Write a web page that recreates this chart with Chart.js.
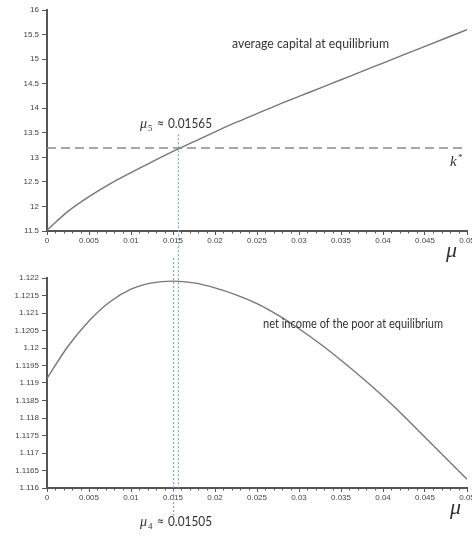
<!DOCTYPE html>
<html><head><meta charset="utf-8">
<script src="https://cdn.jsdelivr.net/npm/chart.js@4/dist/chart.umd.min.js"></script>
<style>
html,body{margin:0;padding:0;background:#fff;}
#wrap{position:relative;width:472px;height:537px;overflow:hidden;}
canvas{position:absolute;left:0;top:0;}
</style></head><body>
<div id="wrap"><canvas id="c1" width="472" height="537"></canvas><canvas id="c2" width="472" height="537"></canvas></div>
<script>
// ---- data ----
const mu = [0,0.0025,0.005,0.0075,0.01,0.0125,0.015,0.0175,0.02,0.0225,0.025,0.0275,0.03,0.0325,0.035,0.0375,0.04,0.0425,0.045,0.0475,0.05];
const avgCapital = [11.52,11.9,12.2,12.46,12.69,12.91,13.12,13.32,13.52,13.71,13.89,14.07,14.24,14.41,14.58,14.75,14.92,15.09,15.26,15.43,15.6];
const netIncomePoor = [1.11913,1.12005,1.12077,1.12132,1.12168,1.12186,1.12191,1.12186,1.12172,1.12152,1.12127,1.12094,1.12055,1.12012,1.11965,1.11915,1.11862,1.11805,1.11745,1.11685,1.11625];
const kStar = 13.19;
const mu5 = 0.01565;
const mu4 = 0.01505;
const xTickLabels = ['0','0.005','0.01','0.015','0.02','0.025','0.03','0.035','0.04','0.045','0.05'];
const topYTickLabels = ['11.5','12','12.5','13','13.5','14','14.5','15','15.5','16'];
const bottomYTickLabels = ['1.116','1.1165','1.117','1.1175','1.118','1.1185','1.119','1.1195','1.12','1.1205','1.121','1.1215','1.122'];
const xStep = 0.005, topYStep = 0.5, bottomYStep = 0.0005;

// ---- helpers ----
const AXIS = '#555';
const TICKFONT = {family:'Liberation Sans, Arial, sans-serif', size:8};
function fitText(ctx, txt, x, y, w, font, color){
  ctx.save(); ctx.font = font; ctx.fillStyle = color; ctx.textBaseline = 'alphabetic'; ctx.textAlign='left';
  const m = ctx.measureText(txt).width;
  ctx.translate(x, y); ctx.scale(w/m, 1); ctx.fillText(txt, 0, 0); ctx.restore();
}
function muLabel(ctx, sub, val, x, y){
  ctx.save(); ctx.fillStyle = '#333'; ctx.textBaseline='alphabetic';
  ctx.font = 'italic 14px "Liberation Serif", serif'; ctx.fillText('μ', x, y);
  ctx.font = '9px "Liberation Serif", serif'; ctx.fillText(sub, x+8, y+3);
  ctx.restore();
  fitText(ctx, '≈', x+17, y-1, 7, '12px "DejaVu Sans", sans-serif', '#333');
  fitText(ctx, val, x+28, y, 44, '13px Lato, sans-serif', '#333');
}
const minorTicks = {id:'minorTicks', afterDraw(chart){
  const xs = chart.scales.x, ctx = chart.ctx;
  ctx.save(); ctx.strokeStyle = AXIS; ctx.lineWidth = 1;
  for(let i=1;i<50;i++){ if(i%5===0) continue;
    const px = Math.round(xs.getPixelForValue(i*0.001))+0.5;
    ctx.beginPath(); ctx.moveTo(px, xs.top); ctx.lineTo(px, xs.top+2.5); ctx.stroke(); }
  ctx.restore();
}};
function makeScales(yMin, yMax, yStep, yLabels){
  return {
    x:{type:'linear', min:0, max:0.05,
      afterFit(s){ s.height = 30; s.paddingLeft = 0; s.paddingRight = 0; },
      grid:{drawOnChartArea:false, tickLength:4, tickColor:AXIS, tickWidth:1},
      border:{color:AXIS, width:2},
      ticks:{stepSize:xStep, autoSkip:false, maxRotation:0, padding:1, color:'#444', font:TICKFONT,
        callback(v){ return xTickLabels[Math.round(v/xStep)]; }}},
    y:{type:'linear', min:yMin, max:yMax,
      afterFit(s){ s.width = 47; s.paddingTop = 0; s.paddingBottom = 0; },
      grid:{drawOnChartArea:false, tickLength:5, tickColor:AXIS, tickWidth:1},
      border:{color:AXIS, width:2},
      ticks:{stepSize:yStep, autoSkip:false, padding:3, color:'#444', font:TICKFONT,
        callback(v){ return yLabels[Math.round((v-yMin)/yStep)]; }}}
  };
}

// ---- top chart ----
const topText = {id:'topText', afterDraw(chart){
  const ctx = chart.ctx;
  fitText(ctx, 'average capital at equilibrium', 232, 48, 157, '13px Lato, sans-serif', '#333');
  muLabel(ctx, '5', '0.01565', 140, 128);
  ctx.save(); ctx.fillStyle='#333';
  ctx.font = 'italic 15px "Liberation Serif", serif'; ctx.fillText('k', 450, 166);
  ctx.font = '9px "Liberation Serif", serif'; ctx.fillText('*', 458, 160);
  ctx.font = 'italic 22px "Liberation Serif", serif'; ctx.fillText('μ', 446, 257);
  ctx.restore();
}};
const chart1 = new Chart(document.getElementById('c1'), {
  type:'line',
  data:{datasets:[
    {data: mu.map((m,i)=>({x:m, y:avgCapital[i]})), borderColor:'#777', borderWidth:1.4, pointRadius:0, cubicInterpolationMode:'monotone', fill:false},
    {data: [{x:0,y:kStar},{x:0.05,y:kStar}], borderColor:'#8a8a8a', borderWidth:1.5, borderDash:[9,5], pointRadius:0, fill:false}
  ]},
  options:{responsive:false, animation:false, devicePixelRatio:1,
    layout:{padding:{left:0, right:5, top:10, bottom:537-231-30}},
    plugins:{legend:{display:false}, tooltip:{enabled:false}},
    scales: makeScales(11.5, 16, topYStep, topYTickLabels)},
  plugins:[minorTicks, topText]
});

// ---- bottom chart ----
const bottomText = {id:'bottomText', afterDraw(chart){
  const ctx = chart.ctx, xs = chart.scales.x;
  fitText(ctx, 'net income of the poor at equilibrium', 263, 328, 180, '13px Lato, sans-serif', '#333');
  muLabel(ctx, '4', '0.01505', 140, 526);
  ctx.save(); ctx.fillStyle='#333';
  ctx.font = 'italic 22px "Liberation Serif", serif'; ctx.fillText('μ', 450, 514);
  ctx.restore();
  // dotted guide lines
  ctx.save(); ctx.strokeStyle = '#7fa6d8'; ctx.lineWidth = 1.2; ctx.setLineDash([2,2]);
  const x5 = Math.round(xs.getPixelForValue(mu5))+0.5;
  const y5top = chart1.scales.y.getPixelForValue(13.47);
  ctx.beginPath(); ctx.moveTo(x5, y5top); ctx.lineTo(x5, chart.chartArea.bottom); ctx.stroke();
  const x4 = Math.round(xs.getPixelForValue(mu4))+0.5;
  ctx.beginPath(); ctx.moveTo(x4, 258); ctx.lineTo(x4, 516); ctx.stroke();
  ctx.restore();
}};
const chart2 = new Chart(document.getElementById('c2'), {
  type:'line',
  data:{datasets:[
    {data: mu.map((m,i)=>({x:m, y:netIncomePoor[i]})), borderColor:'#777', borderWidth:1.4, pointRadius:0, cubicInterpolationMode:'monotone', fill:false}
  ]},
  options:{responsive:false, animation:false, devicePixelRatio:1,
    layout:{padding:{left:0, right:5, top:278, bottom:537-488-30}},
    plugins:{legend:{display:false}, tooltip:{enabled:false}},
    scales: makeScales(1.116, 1.122, bottomYStep, bottomYTickLabels)},
  plugins:[minorTicks, bottomText]
});
</script>
</body></html>
